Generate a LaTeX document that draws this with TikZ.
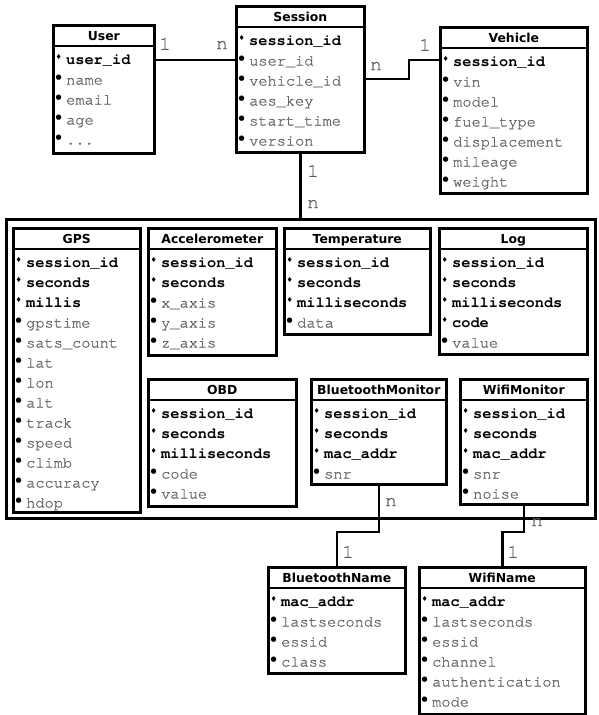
\documentclass[tikz,border=0pt]{standalone}
\usepackage{fontspec}
\setmonofont{texgyrecursor-regular.otf}[UprightFeatures={FakeBold=0.9},BoldFont=texgyrecursor-bold.otf]
\newfontfamily\hdrfont{DejaVu Sans}
\newfontfamily\symfont{DejaVu Sans}
\usetikzlibrary{calc}
\definecolor{attgray}{HTML}{666666}
\definecolor{lblgray}{HTML}{5A5A5A}
\newcommand\K[1]{\makebox[12pt][l]{\hspace{1.5pt}\raisebox{5pt}{\symfont\fontsize{7}{7}\selectfont ♦}}{\color{black}\bfseries #1}}
\newcommand\A[1]{\makebox[12pt][l]{\hspace{1.5pt}\raisebox{5.5pt}{\symfont\fontsize{7}{7}\selectfont ●}}{\color{attgray}#1}}
\tikzset{
  tbl/.style={draw=black, line width=2.6pt, fill=white, inner sep=0pt, anchor=north west},
  hdr/.style={anchor=base, inner sep=0pt, font=\hdrfont\bfseries\fontsize{12.4}{14}\selectfont},
  rowtxt/.style={anchor=base west, inner sep=0pt, font=\ttfamily\fontsize{15.3}{20}\selectfont},
  conn/.style={draw=black, line width=2.6pt},
  lbl/.style={inner sep=0pt, text=lblgray, font=\ttfamily\fontsize{19}{20}\selectfont},
  grpbox/.style={draw=black, line width=2.6pt, inner sep=0pt, anchor=north west}
}
% name, left, top, right, bottom, title, rows
\newcommand\mktable[7]{%
  \node[tbl, minimum width={#4-#2}, minimum height={#5-#3}] (#1) at (#2,#3) {};
  \draw[line width=2.6pt] ($(#1.north west)+(0,22)$) -- ($(#1.north east)+(0,22)$);
  \node[hdr] (#1-title) at ($(#1.north)+(0,16.5)$) {#6};
  \foreach \r [count=\i from 0] in {#7}
    \node[rowtxt] (#1-r\i) at ($(#1.north west)+(2,40.5+20*\i)$) {\r};
}
\begin{document}
\begin{tikzpicture}[x=1pt,y=-1pt]
\useasboundingbox (0,0) rectangle (598,715);
% group box
\node[grpbox, minimum width=589, minimum height=299] (grp) at (5,218) {};
% tables
\mktable{user}{52}{24}{153}{152}{User}{\K{user\_id},\A{name},\A{email},\A{age},\A{...}}
\mktable{session}{235}{5}{363}{151}{Session}{\K{session\_id},\A{user\_id},\A{vehicle\_id},\A{aes\_key},\A{start\_time},\A{version}}
\mktable{vehicle}{439}{26}{586}{192}{Vehicle}{\K{session\_id},\A{vin},\A{model},\A{fuel\_type},\A{displacement},\A{mileage},\A{weight}}
\mktable{gps}{12}{227}{139}{511}{GPS}{\K{session\_id},\K{seconds},\K{millis},\A{gpstime},\A{sats\_count},\A{lat},\A{lon},\A{alt},\A{track},\A{speed},\A{climb},\A{accuracy},\A{hdop}}
\mktable{acc}{147}{227}{275}{354}{Accelerometer}{\K{session\_id},\K{seconds},\A{x\_axis},\A{y\_axis},\A{z\_axis}}
\mktable{temp}{283}{227}{429}{333}{Temperature}{\K{session\_id},\K{seconds},\K{milliseconds},\A{data}}
\mktable{log}{438}{227}{586}{353}{Log}{\K{session\_id},\K{seconds},\K{milliseconds},\K{code},\A{value}}
\mktable{obd}{147}{378}{295}{505}{OBD}{\K{session\_id},\K{seconds},\K{milliseconds},\A{code},\A{value}}
\mktable{bm}{310}{378}{445}{483}{BluetoothMonitor}{\K{session\_id},\K{seconds},\K{mac\_addr},\A{snr}}
\mktable{wm}{459}{378}{586}{503}{WifiMonitor}{\K{session\_id},\K{seconds},\K{mac\_addr},\A{snr},\A{noise}}
\mktable{bn}{267}{566}{404}{672}{BluetoothName}{\K{mac\_addr},\A{lastseconds},\A{essid},\A{class}}
\mktable{wn}{418}{566}{584}{713}{WifiName}{\K{mac\_addr},\A{lastseconds},\A{essid},\A{channel},\A{authentication},\A{mode}}
% connector helper coordinates
\coordinate (us) at (0,60);
\coordinate (sv) at (409,79);
\coordinate (bb) at (0,532);
% connectors
\draw[conn] (user.east |- us) -- (session.west |- us);
\draw[conn] (session.east |- sv) -- (sv) |- (vehicle.west |- us);
\draw[conn] (session.south) -- (grp.north -| session.south);
\draw[conn] (bm.south) -- (bm.south |- bb) -| (bn.north);
\draw[conn] (wm.south) -- (wm.south |- bb) -| (wn.north);
% cardinality labels
\node[lbl] (l-us1) at (165,44) {1};
\node[lbl] (l-usn) at (222,45) {n};
\node[lbl] (l-svn) at (376,66) {n};
\node[lbl] (l-sv1) at (425,45) {1};
\node[lbl] (l-sg1) at (313,171) {1};
\node[lbl] (l-sgn) at (313,204) {n};
\node[lbl] (l-bmn) at (391,502) {n};
\node[lbl] (l-bn1) at (348,552) {1};
\node[lbl] (l-wmn) at (537,522) {n};
\node[lbl] (l-wn1) at (513,552) {1};
\end{tikzpicture}
\end{document}
